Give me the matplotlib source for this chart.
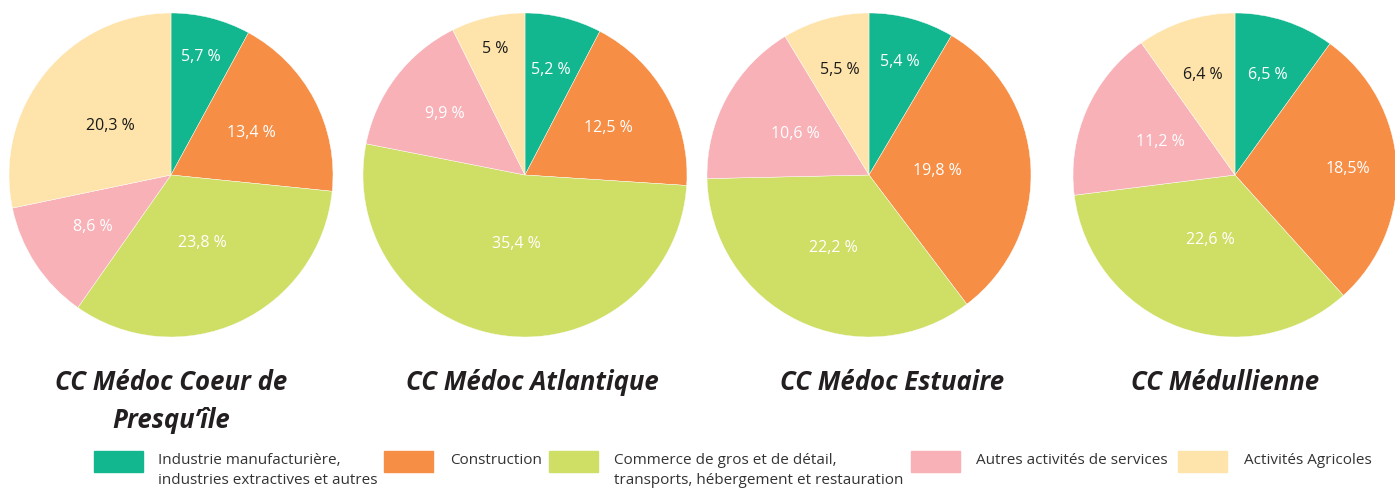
import numpy as np
import matplotlib.pyplot as plt
from matplotlib.patches import Rectangle

plt.rcParams['font.family'] = ['Open Sans', 'DejaVu Sans']

# Data
categories = ['Industrie manufacturière,\nindustries extractives et autres',
              'Construction',
              'Commerce de gros et de détail,\ntransports, hébergement et restauration',
              'Autres activités de services',
              'Activités Agricoles']
colors = ['#13b78f', '#f68e45', '#cfde65', '#f7b1b7', '#fee4ab']
label_colors = ['white', 'white', 'white', 'white', '#1a1a1a']

territories = ['CC Médoc Coeur de\nPresqu’île', 'CC Médoc Atlantique',
               'CC Médoc Estuaire', 'CC Médullienne']

coeur = [5.7, 13.4, 23.8, 8.6, 20.3]
atlantique = [5.2, 12.5, 35.4, 9.9, 5.0]
estuaire = [5.4, 19.8, 22.2, 10.6, 5.5]
medullienne = [6.5, 18.5, 22.6, 11.2, 6.4]

labels_coeur = ['5,7 %', '13,4 %', '23,8 %', '8,6 %', '20,3 %']
labels_atlantique = ['5,2 %', '12,5 %', '35,4 %', '9,9 %', '5 %']
labels_estuaire = ['5,4 %', '19,8 %', '22,2 %', '10,6 %', '5,5 %']
labels_medullienne = ['6,5 %', '18,5%', '22,6 %', '11,2 %', '6,4 %']

values = [coeur, atlantique, estuaire, medullienne]
labels = [labels_coeur, labels_atlantique, labels_estuaire, labels_medullienne]

# layout (pixels)
W, H = 1395, 488
centers_x = [171, 525, 869, 1235]
center_y = 175
R = 162
label_dist = [[0.75, 0.56, 0.46, 0.58, 0.48],
              [0.67, 0.59, 0.43, 0.62, 0.80],
              [0.72, 0.42, 0.50, 0.52, 0.67],
              [0.65, 0.70, 0.43, 0.50, 0.65]]
title_x = [171, 532, 892, 1225]

fig = plt.figure(figsize=(W / 100, H / 100), dpi=100)

for i in range(4):
    cx = centers_x[i]
    ax = fig.add_axes([(cx - R) / W, 1 - (center_y + R) / H, 2 * R / W, 2 * R / H])
    wedges, _ = ax.pie(values[i], colors=colors, startangle=90, counterclock=False,
                       radius=1, wedgeprops=dict(edgecolor='white', linewidth=0.3))
    for j, w in enumerate(wedges):
        ang = np.deg2rad((w.theta1 + w.theta2) / 2)
        d = label_dist[i][j]
        ax.text(d * np.cos(ang), d * np.sin(ang), labels[i][j], ha='center', va='center',
                fontsize=11.5, color=label_colors[j])
    ax.set_xlim(-1, 1)
    ax.set_ylim(-1, 1)
    ax.axis('off')
    fig.text(title_x[i] / W, 1 - 369 / H, territories[i], ha='center', va='top',
             fontsize=18.5, fontweight='bold', fontstyle='italic', color='#231f20',
             linespacing=1.5)

# legend
patch_x = [94, 384, 549, 911, 1178]
text_x = [158, 450, 614, 976, 1244]
for k in range(5):
    fig.patches.append(Rectangle((patch_x[k] / W, 1 - 472 / H), 49 / W, 21 / H,
                                 transform=fig.transFigure, color=colors[k]))
    fig.text(text_x[k] / W, 1 - 453 / H, categories[k], ha='left', va='top',
             fontsize=11, color='#333333', linespacing=1.5)

plt.savefig('out.png', dpi=100)
